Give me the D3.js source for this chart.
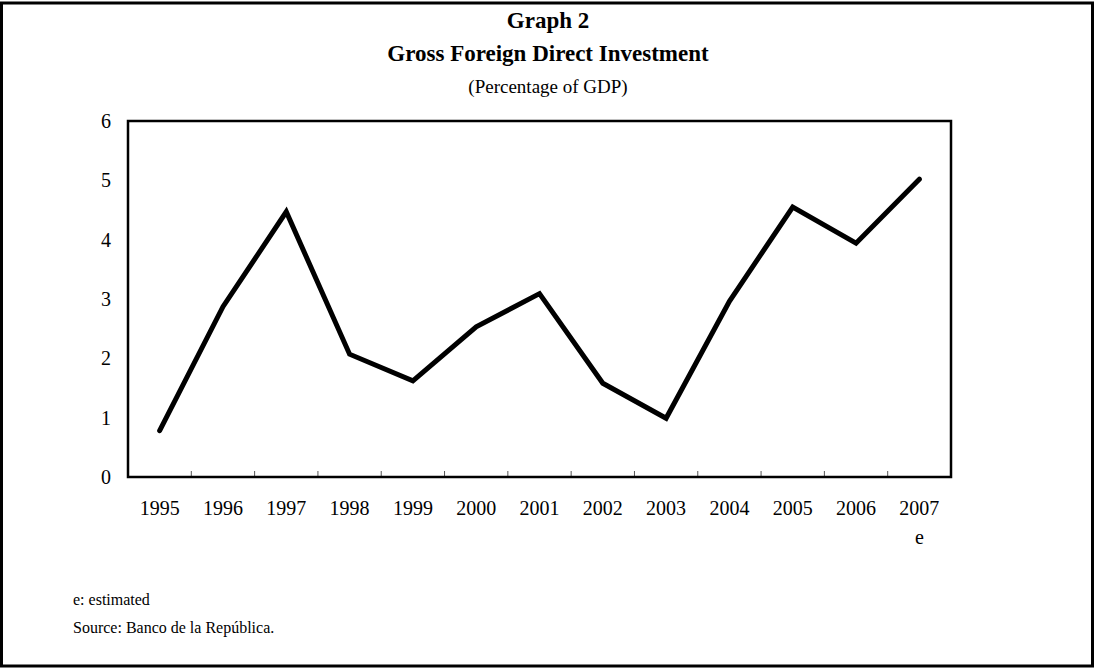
<!DOCTYPE html>
<html>
<head>
<meta charset="utf-8">
<script src="https://cdn.jsdelivr.net/npm/d3@7"></script>
<style>
  body { margin: 0; background: #fff; }
  svg { display: block; font-family: "Liberation Serif", "Times New Roman", serif; }
</style>
</head>
<body>
<svg id="chart" width="1096" height="669"></svg>
<script>
// Data
const years = ['1995', '1996', '1997', '1998', '1999', '2000', '2001', '2002', '2003', '2004', '2005', '2006', '2007'];
const fdiPct = [0.78, 2.87, 4.47, 2.07, 1.62, 2.53, 3.09, 1.58, 0.99, 2.96, 4.55, 3.94, 5.02];
const yTicks = [0, 1, 2, 3, 4, 5, 6];
const titleLines = ['Graph 2', 'Gross Foreign Direct Investment'];
const subtitle = '(Percentage of GDP)';
const notes = ['e: estimated', 'Source: Banco de la República.'];

const svg = d3.select('#chart');
const margin = { top: 121, right: 145, bottom: 192, left: 128 };
const width = 1096 - margin.left - margin.right;
const height = 669 - margin.top - margin.bottom;

// outer frame
svg.append('rect')
    .attr('x', 1.5).attr('y', 3)
    .attr('width', 1091).attr('height', 663)
    .attr('fill', 'none')
    .attr('stroke', '#000')
    .attr('stroke-width', 3);

// titles
svg.selectAll('text.title')
    .data(titleLines)
    .join('text')
    .attr('class', 'title')
    .attr('x', 548)
    .attr('y', (d, i) => 28 + i * 33)
    .attr('text-anchor', 'middle')
    .attr('font-size', 23)
    .attr('font-weight', 'bold')
    .text(d => d);

svg.append('text')
    .attr('x', 548).attr('y', 93)
    .attr('text-anchor', 'middle')
    .attr('font-size', 19)
    .text(subtitle);

const g = svg.append('g').attr('transform', `translate(${margin.left},${margin.top})`);

const x = d3.scaleBand().domain(years).range([0, width]);
const y = d3.scaleLinear().domain([0, 6]).range([height, 0]);

// x tick marks at band boundaries, pointing up into the plot
g.selectAll('line.xtick')
    .data(years.slice(1))
    .join('line')
    .attr('class', 'xtick')
    .attr('x1', d => x(d)).attr('x2', d => x(d))
    .attr('y1', height).attr('y2', height - 6)
    .attr('stroke', '#555')
    .attr('stroke-width', 1);

// year labels
g.selectAll('text.xlab')
    .data(years)
    .join('text')
    .attr('class', 'xlab')
    .attr('x', d => x(d) + x.bandwidth() / 2)
    .attr('y', height + 38)
    .attr('text-anchor', 'middle')
    .attr('font-size', 20)
    .text(d => d);

g.append('text')
    .attr('x', x('2007') + x.bandwidth() / 2)
    .attr('y', height + 67)
    .attr('text-anchor', 'middle')
    .attr('font-size', 20)
    .text('e');

// y labels
g.selectAll('text.ylab')
    .data(yTicks)
    .join('text')
    .attr('class', 'ylab')
    .attr('x', -22)
    .attr('y', d => y(d))
    .attr('dy', '0.35em')
    .attr('text-anchor', 'middle')
    .attr('font-size', 20)
    .text(d => d);

// plot box
g.append('rect')
    .attr('width', width).attr('height', height)
    .attr('fill', 'none')
    .attr('stroke', '#000')
    .attr('stroke-width', 2.5);

// series line
const line = d3.line()
    .x((d, i) => x(years[i]) + x.bandwidth() / 2)
    .y(d => y(d));

g.append('path')
    .datum(fdiPct)
    .attr('d', line)
    .attr('fill', 'none')
    .attr('stroke', '#000')
    .attr('stroke-width', 5)
    .attr('stroke-linejoin', 'miter')
    .attr('stroke-linecap', 'round');

// footnotes
svg.selectAll('text.note')
    .data(notes)
    .join('text')
    .attr('class', 'note')
    .attr('x', 73)
    .attr('y', (d, i) => 605 + i * 28)
    .attr('font-size', 16)
    .text(d => d);
</script>
</body>
</html>
